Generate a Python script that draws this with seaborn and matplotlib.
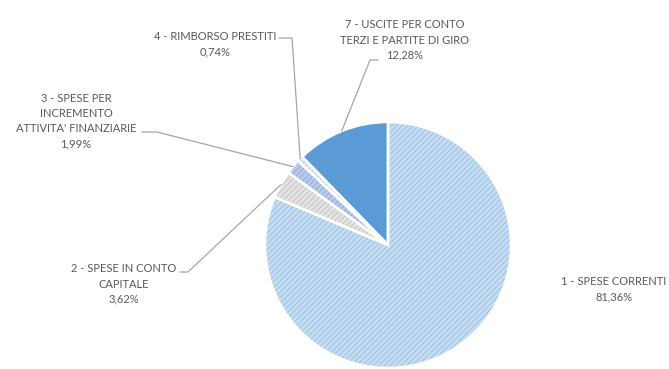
import numpy as np
import matplotlib
matplotlib.use("Agg")
import matplotlib.pyplot as plt
import seaborn as sns

# --- data ---
categories = ["1 - SPESE CORRENTI", "2 - SPESE IN CONTO\nCAPITALE",
              "3 - SPESE PER\nINCREMENTO\nATTIVITA' FINANZIARIE",
              "4 - RIMBORSO PRESTITI", "7 - USCITE PER CONTO\nTERZI E PARTITE DI GIRO"]
shares = [81.36, 3.62, 1.99, 0.74, 12.28]
pct_labels = ["81,36%", "3,62%", "1,99%", "0,74%", "12,28%"]

face_colors = ["#c5dcf1", "#e3e3e3", "#b9cbea", "#dfe7f5", "#5b9bd5"]
hatch_colors = ["#9cc2e6", "#c4c4c4", "#8eaadb", "#a9bfe6", "#5b9bd5"]
hatches = ["//////", "//////", "//////", "//////", ""]

# label block centres and leader elbows, in pixels (y from top)
label_pos = [(614, 289), (124, 284), (76, 121), (215, 44), (405, 40)]
leader_start = [None, (180, 272), (142, 132), (279, 38), (378, 60)]
leader_elbow = [None, (188, 272), (157, 132), (292, 38), (370, 60)]

W, H = 669, 369
cx, cy, r = 388, 245, 123

sns.set_theme(style="white")
plt.rcParams["font.family"] = ["Lato", "DejaVu Sans"]
plt.rcParams["hatch.linewidth"] = 0.7

fig = plt.figure(figsize=(W / 100, H / 100), dpi=100)
ax = fig.add_axes([0, 0, 1, 1])

wedges, _ = ax.pie(shares, colors=face_colors, startangle=90, counterclock=False,
                   center=(cx, H - cy), radius=r, frame=True,
                   wedgeprops=dict(linewidth=0))
for w, h, hc in zip(wedges, hatches, hatch_colors):
    w.set_edgecolor(hc)
    w.set_hatch(h)
    w.set_linewidth(0)

# white borders on top
ax.pie(shares, colors=["none"] * len(shares), startangle=90, counterclock=False,
       center=(cx, H - cy), radius=r, frame=True,
       wedgeprops=dict(linewidth=1.8, edgecolor="white"))

for i, w in enumerate(wedges):
    tx, ty = label_pos[i]
    ax.text(tx, H - ty, categories[i] + "\n" + pct_labels[i], ha="center", va="center",
            multialignment="center", fontsize=8, color="#595959", linespacing=1.45)
    if leader_start[i] is None:
        continue
    ang = np.deg2rad((w.theta1 + w.theta2) / 2)
    ax_pt = (cx + r * np.cos(ang), H - cy + r * np.sin(ang))
    sx, sy = leader_start[i]
    ex, ey = leader_elbow[i]
    ax.plot([sx, ex, ax_pt[0]], [H - sy, H - ey, ax_pt[1]], color="#a6a6a6", lw=0.9)

ax.set_xlim(0, W)
ax.set_ylim(0, H)
ax.set_aspect("equal")
ax.axis("off")

fig.savefig("out.png", dpi=100, facecolor="white")
